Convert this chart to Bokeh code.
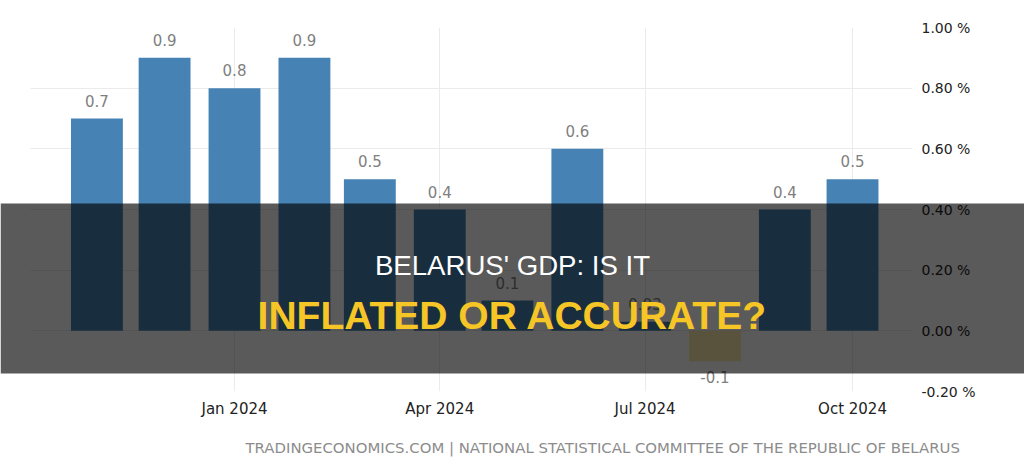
import datetime as dt
from bokeh.plotting import figure
from bokeh.models import (ColumnDataSource, FixedTicker, DatetimeTickFormatter,
                          PrintfTickFormatter, BoxAnnotation, Label, Range1d, Title)
from bokeh.core.properties import value
from bokeh.embed import file_html
from bokeh.resources import INLINE

# ---- data ----
months = ["2023-11-01", "2023-12-01", "2024-01-01", "2024-02-01", "2024-03-01", "2024-04-01",
          "2024-05-01", "2024-06-01", "2024-07-01", "2024-08-01", "2024-09-01", "2024-10-01"]
gdp_growth = [0.7, 0.9, 0.8, 0.9, 0.5, 0.4, 0.1, 0.6, 0.03, -0.1, 0.4, 0.5]
x_tick_dates = ["2024-01-01", "2024-04-01", "2024-07-01", "2024-10-01"]
y_ticks = [-0.2, 0.0, 0.2, 0.4, 0.6, 0.8, 1.0]
title_line1 = "BELARUS' GDP: IS IT"
title_line2 = "INFLATED OR ACCURATE?"
footer_text = "TRADINGECONOMICS.COM | NATIONAL STATISTICAL COMMITTEE OF THE REPUBLIC OF BELARUS"

# ---- derived ----
def to_dt(s):
    return dt.datetime.strptime(s, "%Y-%m-%d")

def to_ms(d):
    return (d - dt.datetime(1970, 1, 1)).total_seconds() * 1000.0

xs = [to_dt(m) for m in months]
pos_color = "#4682b4"
neg_color = "#fbe9a9"
colors = [pos_color if v >= 0 else neg_color for v in gdp_growth]
labels = [f"{v:g}" for v in gdp_growth]
yoffs = [-18 if v >= 0 else 16 for v in gdp_growth]

src = ColumnDataSource(dict(x=xs, top=gdp_growth, color=colors, label=labels, yoff=yoffs))

p = figure(width=1024, height=476, x_axis_type="datetime", y_axis_location="right",
           x_range=Range1d(dt.datetime(2023, 9, 19, 6), dt.datetime(2024, 12, 16, 6)),
           y_range=Range1d(-0.2, 1.0),
           min_border_left=0, min_border_right=0, min_border_top=27, min_border_bottom=85,
           toolbar_location=None, output_backend="svg")
p.outline_line_color = None
p.background_fill_color = "white"
p.border_fill_color = "white"

# trim grid lines to the chart area (white masks drawn just above the grid)
p.add_layout(BoxAnnotation(right=30, right_units="screen", fill_color="white", fill_alpha=1,
                           line_color=None, level="underlay"))
p.add_layout(BoxAnnotation(left=912, left_units="screen", fill_color="white", fill_alpha=1,
                           line_color=None, level="underlay"))

bar_w = 23 * 24 * 3600 * 1000
p.vbar(x="x", top="top", bottom=0, width=bar_w, fill_color="color", line_color=None, source=src)
p.text(x="x", y="top", text="label", source=src, y_offset="yoff",
       text_align="center", text_baseline="alphabetic",
       text_font=value("DejaVu Sans"), text_font_size="15px", text_color="#7f7f7f")

# axes
xt = FixedTicker(ticks=[to_ms(to_dt(d)) for d in x_tick_dates])
p.xaxis.ticker = xt
fmt = "%b %Y"
p.xaxis.formatter = DatetimeTickFormatter(days=fmt, months=fmt, years=fmt, hours=fmt,
                                          minutes=fmt, seconds=fmt, milliseconds=fmt)
p.xaxis.axis_line_color = None
p.xaxis.major_tick_line_color = None
p.xaxis.minor_tick_line_color = None
p.xaxis.major_label_standoff = 2
p.xaxis.major_label_text_font = "DejaVu Sans"
p.xaxis.major_label_text_font_size = "15px"
p.xaxis.major_label_text_color = "#222222"

yt = FixedTicker(ticks=y_ticks)
p.yaxis.ticker = yt
p.yaxis.formatter = PrintfTickFormatter(format="%.2f %%")
p.yaxis.axis_line_color = None
p.yaxis.major_tick_line_color = None
p.yaxis.minor_tick_line_color = None
p.yaxis.major_tick_in = 0
p.yaxis.major_tick_out = 0
p.yaxis.major_label_standoff = -103
p.yaxis.major_label_text_align = "left"
p.yaxis.major_label_text_font = "DejaVu Sans"
p.yaxis.major_label_text_font_size = "14px"
p.yaxis.major_label_text_color = "#222222"

p.xgrid.ticker = xt
p.ygrid.ticker = yt
p.xgrid.grid_line_color = "#ebebeb"
p.ygrid.grid_line_color = "#ebebeb"

# overlay band and headline
band = BoxAnnotation(left=0, right=1024, top=188, bottom=18,
                     left_units="screen", right_units="screen",
                     top_units="screen", bottom_units="screen",
                     fill_color="black", fill_alpha=0.647, line_color=None, level="overlay")
p.add_layout(band)
p.add_layout(Label(x=512, y=126, x_units="screen", y_units="screen", text=title_line1,
                   text_align="center", text_baseline="alphabetic", text_color="white",
                   text_font="Liberation Sans", text_font_size="27.6px", level="overlay"))
p.add_layout(Label(x=512, y=76, x_units="screen", y_units="screen", text=title_line2,
                   text_align="center", text_baseline="alphabetic", text_color="#f6c526",
                   text_font="Liberation Sans", text_font_size="39px", text_font_style="bold",
                   level="overlay"))

p.add_layout(Title(text=footer_text, align="left", offset=245, standoff=32,
                   text_color="#8c8c8c", text_font="DejaVu Sans", text_font_size="14.9px",
                   text_font_style="normal"), "below")

open("out.html", "w").write(file_html(p, INLINE))
